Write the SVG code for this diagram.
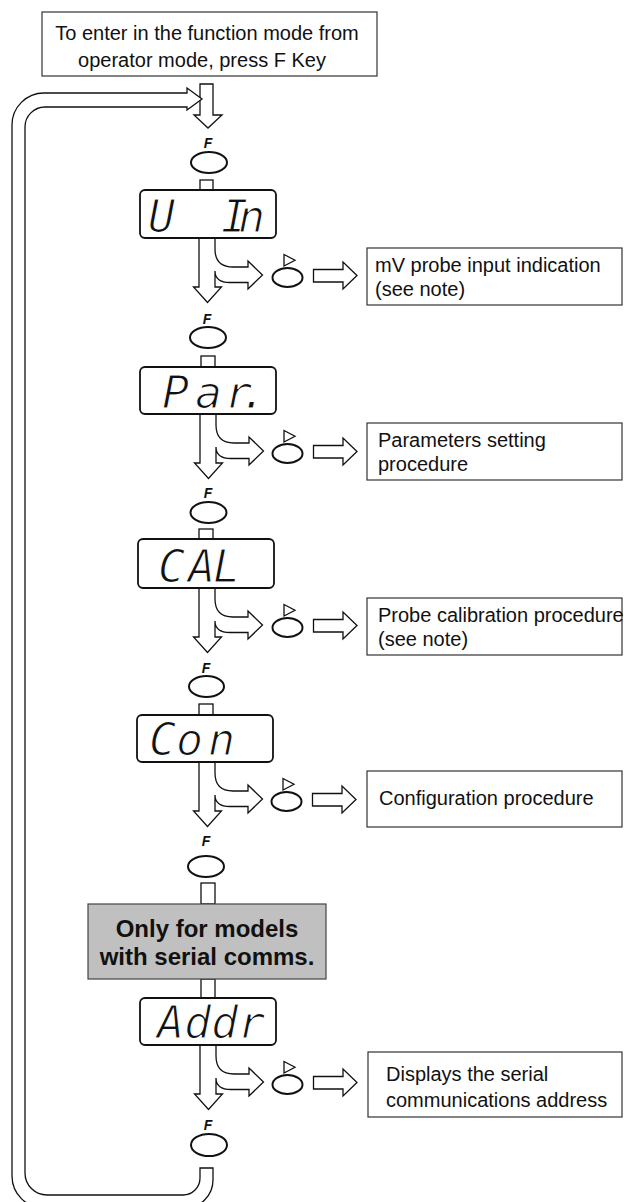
<svg xmlns="http://www.w3.org/2000/svg" width="624" height="1202" viewBox="0 0 624 1202">
<style>
  .box{fill:#fff;stroke:#333;stroke-width:1.2}
  .txt{font-family:"Liberation Sans",Arial,sans-serif;font-size:20px;fill:#111}
  .disp{fill:#fff;stroke:#111;stroke-width:1.8}
  .seg{font-family:"DejaVu Sans Mono",monospace;font-style:oblique;font-size:45px;fill:#111;stroke:#fff;stroke-width:1.2}
  .conn{fill:#fff;stroke:#111;stroke-width:1.3;stroke-linejoin:miter}
  .key{fill:#fff;stroke:#111;stroke-width:2}
  .tri{fill:#fff;stroke:#111;stroke-width:1.3}
  .fk{font-family:"Liberation Sans",Arial,sans-serif;font-size:14px;font-weight:bold;font-style:italic;fill:#111}
  .gray{fill:#c0c0c0;stroke:#444;stroke-width:1.2}
  .gtxt{font-family:"Liberation Sans",Arial,sans-serif;font-size:24px;font-weight:bold;fill:#111}
</style>
<defs>
  <path id="split" class="conn" d="M199,238 L199,287 L193.5,287 L207.5,302.5 L221.5,287 L215,287 L215,271 Q215,282.5 230,282.5 L248,282.5 L248,289 L262.5,275 L248,261 L248,267 L233,267 Q215,267 215,249 L215,238"/>
  <g id="rkey">
    <ellipse class="key" cx="287.5" cy="277.5" rx="15" ry="9.5"/>
    <path class="tri" d="M284,254.5 L295,260.3 L284,266 Z"/>
  </g>
  <path id="rarrow" class="conn" d="M313.5,269.5 L343,269.5 L343,262 L357,275.5 L343,289 L343,282 L313.5,282 Z"/>
</defs>

<g id="start-box">
  <rect class="box" x="42" y="12" width="335" height="64"/>
  <text class="txt" x="207" y="39.5" text-anchor="middle">To enter in the function mode from</text>
  <text class="txt" x="202" y="66.5" text-anchor="middle">operator mode, press F Key</text>
</g>

<g id="connectors">
  <path class="conn" d="M200,84 L213,84 L213,115 L222,115 L208,128 L194,115 L200,115 Z"/>
  <path class="conn" d="M187,93 L44,93 A32,32 0 0 0 12,125 L12,1176 A32,32 0 0 0 44,1208 L185,1208 A28,28 0 0 0 213,1180 L213,1168 L200,1168 L200,1178 A17,17 0 0 1 183,1195 L47,1195 A22,22 0 0 1 25,1173 L25,127 A20,20 0 0 1 45,107 L187,107 L187,110 L202,99 L187,88 Z"/>
  <rect class="conn" x="200" y="180" width="13" height="10"/>
  <rect class="conn" x="201" y="356" width="14" height="11"/>
  <rect class="conn" x="199" y="529" width="14" height="10"/>
  <rect class="conn" x="199" y="704" width="14" height="11"/>
  <rect class="conn" x="201" y="883" width="14" height="21"/>
  <rect class="conn" x="201" y="979" width="14" height="19"/>
  <use href="#split"/>
  <use href="#split" transform="translate(1,176)"/>
  <use href="#split" transform="translate(0,350)"/>
  <use href="#split" transform="translate(0,524)"/>
  <use href="#split" transform="translate(1,807)"/>
  <use href="#rarrow"/>
  <use href="#rarrow" transform="translate(0,176)"/>
  <use href="#rarrow" transform="translate(0,350)"/>
  <use href="#rarrow" transform="translate(-1,524)"/>
  <use href="#rarrow" transform="translate(0,807)"/>
</g>

<g id="fkey-1"><text class="fk" x="208" y="148" text-anchor="middle">F</text><ellipse class="key" cx="209" cy="162.5" rx="18" ry="10.5"/></g>
<g id="fkey-2"><text class="fk" x="207" y="324" text-anchor="middle">F</text><ellipse class="key" cx="208" cy="337.5" rx="18" ry="10.5"/></g>
<g id="fkey-3"><text class="fk" x="208" y="498" text-anchor="middle">F</text><ellipse class="key" cx="208.5" cy="512.5" rx="18" ry="10.5"/></g>
<g id="fkey-4"><text class="fk" x="206" y="673" text-anchor="middle">F</text><ellipse class="key" cx="206.5" cy="686.5" rx="17.5" ry="10.5"/></g>
<g id="fkey-5"><text class="fk" x="206" y="846" text-anchor="middle">F</text><ellipse class="key" cx="206" cy="866.5" rx="18" ry="10.5"/></g>
<g id="fkey-6"><text class="fk" x="208" y="1130" text-anchor="middle">F</text><ellipse class="key" cx="209" cy="1145" rx="18" ry="11"/></g>

<g id="disp-vin">
  <rect class="disp" x="140" y="190" width="136" height="48" rx="5"/>
  <text class="seg" x="148 180 221 238" y="232">U In</text>
</g>
<g id="disp-par">
  <rect class="disp" x="140" y="367" width="136" height="47" rx="5"/>
  <text class="seg" x="162 195 225 240" y="408">Par.</text>
</g>
<g id="disp-cal">
  <rect class="disp" x="138" y="539" width="136" height="49" rx="5"/>
  <text class="seg" x="158 188 213" y="582">CAL</text>
</g>
<g id="disp-con">
  <rect class="disp" x="137" y="715" width="136" height="47" rx="5"/>
  <text class="seg" x="149 176 208" y="755">Con</text>
</g>
<g id="disp-addr">
  <rect class="disp" x="140" y="998" width="136" height="47" rx="5"/>
  <text class="seg" x="157 184 211 238" y="1038">Addr</text>
</g>

<g id="serial-note">
  <rect class="gray" x="88" y="904" width="238" height="75"/>
  <text class="gtxt" x="207" y="937" text-anchor="middle">Only for models</text>
  <text class="gtxt" x="207" y="965" text-anchor="middle">with serial comms.</text>
</g>

<g id="rkey-1"><use href="#rkey"/></g>
<g id="rkey-2"><use href="#rkey" transform="translate(0,176)"/></g>
<g id="rkey-3"><use href="#rkey" transform="translate(0,350)"/></g>
<g id="rkey-4"><use href="#rkey" transform="translate(-1,524)"/></g>
<g id="rkey-5"><use href="#rkey" transform="translate(0,807)"/></g>

<g id="box-mv">
  <rect class="box" x="367" y="248" width="255" height="57"/>
  <text class="txt" x="375" y="272">mV probe input indication</text>
  <text class="txt" x="375" y="295.5">(see note)</text>
</g>
<g id="box-par">
  <rect class="box" x="367" y="423" width="255" height="57"/>
  <text class="txt" x="378" y="447">Parameters setting</text>
  <text class="txt" x="378" y="470.5">procedure</text>
</g>
<g id="box-cal">
  <rect class="box" x="367" y="598" width="255" height="57"/>
  <text class="txt" x="378" y="622">Probe calibration procedure</text>
  <text class="txt" x="378" y="645.5">(see note)</text>
</g>
<g id="box-con">
  <rect class="box" x="367" y="771" width="255" height="56"/>
  <text class="txt" x="379" y="805">Configuration procedure</text>
</g>
<g id="box-addr">
  <rect class="box" x="368" y="1052" width="254" height="65"/>
  <text class="txt" x="386" y="1081">Displays the serial</text>
  <text class="txt" x="386" y="1107">communications address</text>
</g>
</svg>
